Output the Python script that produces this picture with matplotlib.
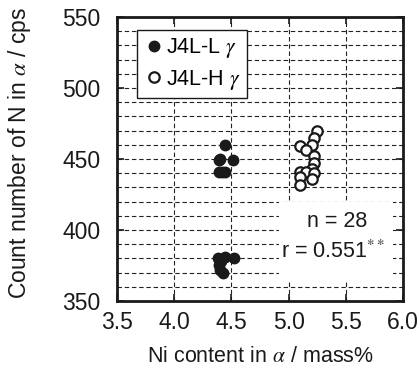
import matplotlib
matplotlib.use("Agg")
import matplotlib.pyplot as plt
from matplotlib.ticker import MultipleLocator

plt.rcParams['font.family'] = ['Liberation Sans', 'DejaVu Sans']
plt.rcParams['mathtext.fontset'] = 'stix'

# Data
l_ni = [4.44, 4.39, 4.51, 4.40, 4.39, 4.44, 4.42,
        4.38, 4.44, 4.52, 4.39, 4.43, 4.41, 4.40]
l_n = [460, 449, 449, 450, 441, 441, 441,
       380, 381, 380, 375, 370, 378, 372]
h_ni = [5.25, 5.22, 5.20, 5.10, 5.15, 5.22, 5.22,
        5.20, 5.10, 5.15, 5.22, 5.10, 5.20, 5.10]
h_n = [470, 465, 460, 459, 456, 452, 447,
       443, 441, 441, 440, 437, 436, 432]
labels = ["J4L-L $\\gamma$", "J4L-H $\\gamma$"]
n_text = "n = 28"
r_text = "r = 0.551$^{**}$"

FS = 15.5
fig = plt.figure(figsize=(4.19, 3.77), dpi=100)
ax = fig.add_axes([0.279, 0.2016, 0.683, 0.7534])

ax.plot(l_ni, l_n, 'o', color='#1a1a1a', markersize=7.5, label=labels[0], zorder=3)
ax.plot(h_ni, h_n, 'o', markerfacecolor='white', markeredgecolor='#1a1a1a',
        markeredgewidth=1.6, markersize=7.5, label=labels[1], zorder=3)

ax.set_xlim(3.5, 6.0)
ax.set_ylim(350, 550)
ax.xaxis.set_major_locator(MultipleLocator(0.5))
ax.yaxis.set_major_locator(MultipleLocator(50))
ax.yaxis.set_minor_locator(MultipleLocator(10))
ax.xaxis.set_major_formatter(matplotlib.ticker.FormatStrFormatter('%.1f'))
ax.set_axisbelow(True)
ax.grid(True, which='major', axis='x', linestyle=(0, (4, 2.5)), color='#222222', linewidth=0.8, zorder=0.5)
ax.grid(True, which='both', axis='y', linestyle=(0, (4, 2.5)), color='#222222', linewidth=0.8, zorder=0.5)

ax.tick_params(which='major', direction='in', top=True, right=True, length=5,
               width=1.2, labelsize=16.5, colors='#1a1a1a')
ax.tick_params(axis='x', which='major', pad=7)
ax.tick_params(axis='y', which='major', pad=12)
ax.tick_params(which='minor', direction='in', left=False, right=False, length=0)
for s in ax.spines.values():
    s.set_linewidth(2)
    s.set_color('#1a1a1a')
    s.set_zorder(5)

ax.set_xlabel("Ni content in $\\alpha$ / mass%", fontsize=FS, color='#1a1a1a', labelpad=9)
ax.set_ylabel("Count number of N in $\\alpha$ / cps", fontsize=16.5, color='#1a1a1a')
ax.yaxis.set_label_coords(-0.292, 0.52)

leg = ax.legend(loc='upper left', bbox_to_anchor=(0.07, 0.955), borderaxespad=0,
                fontsize=FS, frameon=True, fancybox=False, handletextpad=0.05,
                handlelength=1.0, borderpad=0.3, labelspacing=0.35)
leg.get_frame().set_edgecolor('#1a1a1a')
leg.get_frame().set_linewidth(1.0)
leg.get_frame().set_alpha(1)

ax.add_patch(plt.Rectangle((0.565, 0.07), 0.4, 0.28, transform=ax.transAxes,
                           facecolor='white', edgecolor='none', zorder=2))
ax.text(0.77, 0.28, n_text, transform=ax.transAxes, fontsize=FS,
        ha='center', va='center', color='#1a1a1a', zorder=4)
ax.text(0.755, 0.175, r_text, transform=ax.transAxes, fontsize=FS,
        ha='center', va='center', color='#1a1a1a', zorder=4)

fig.savefig("out.png", dpi=100)
